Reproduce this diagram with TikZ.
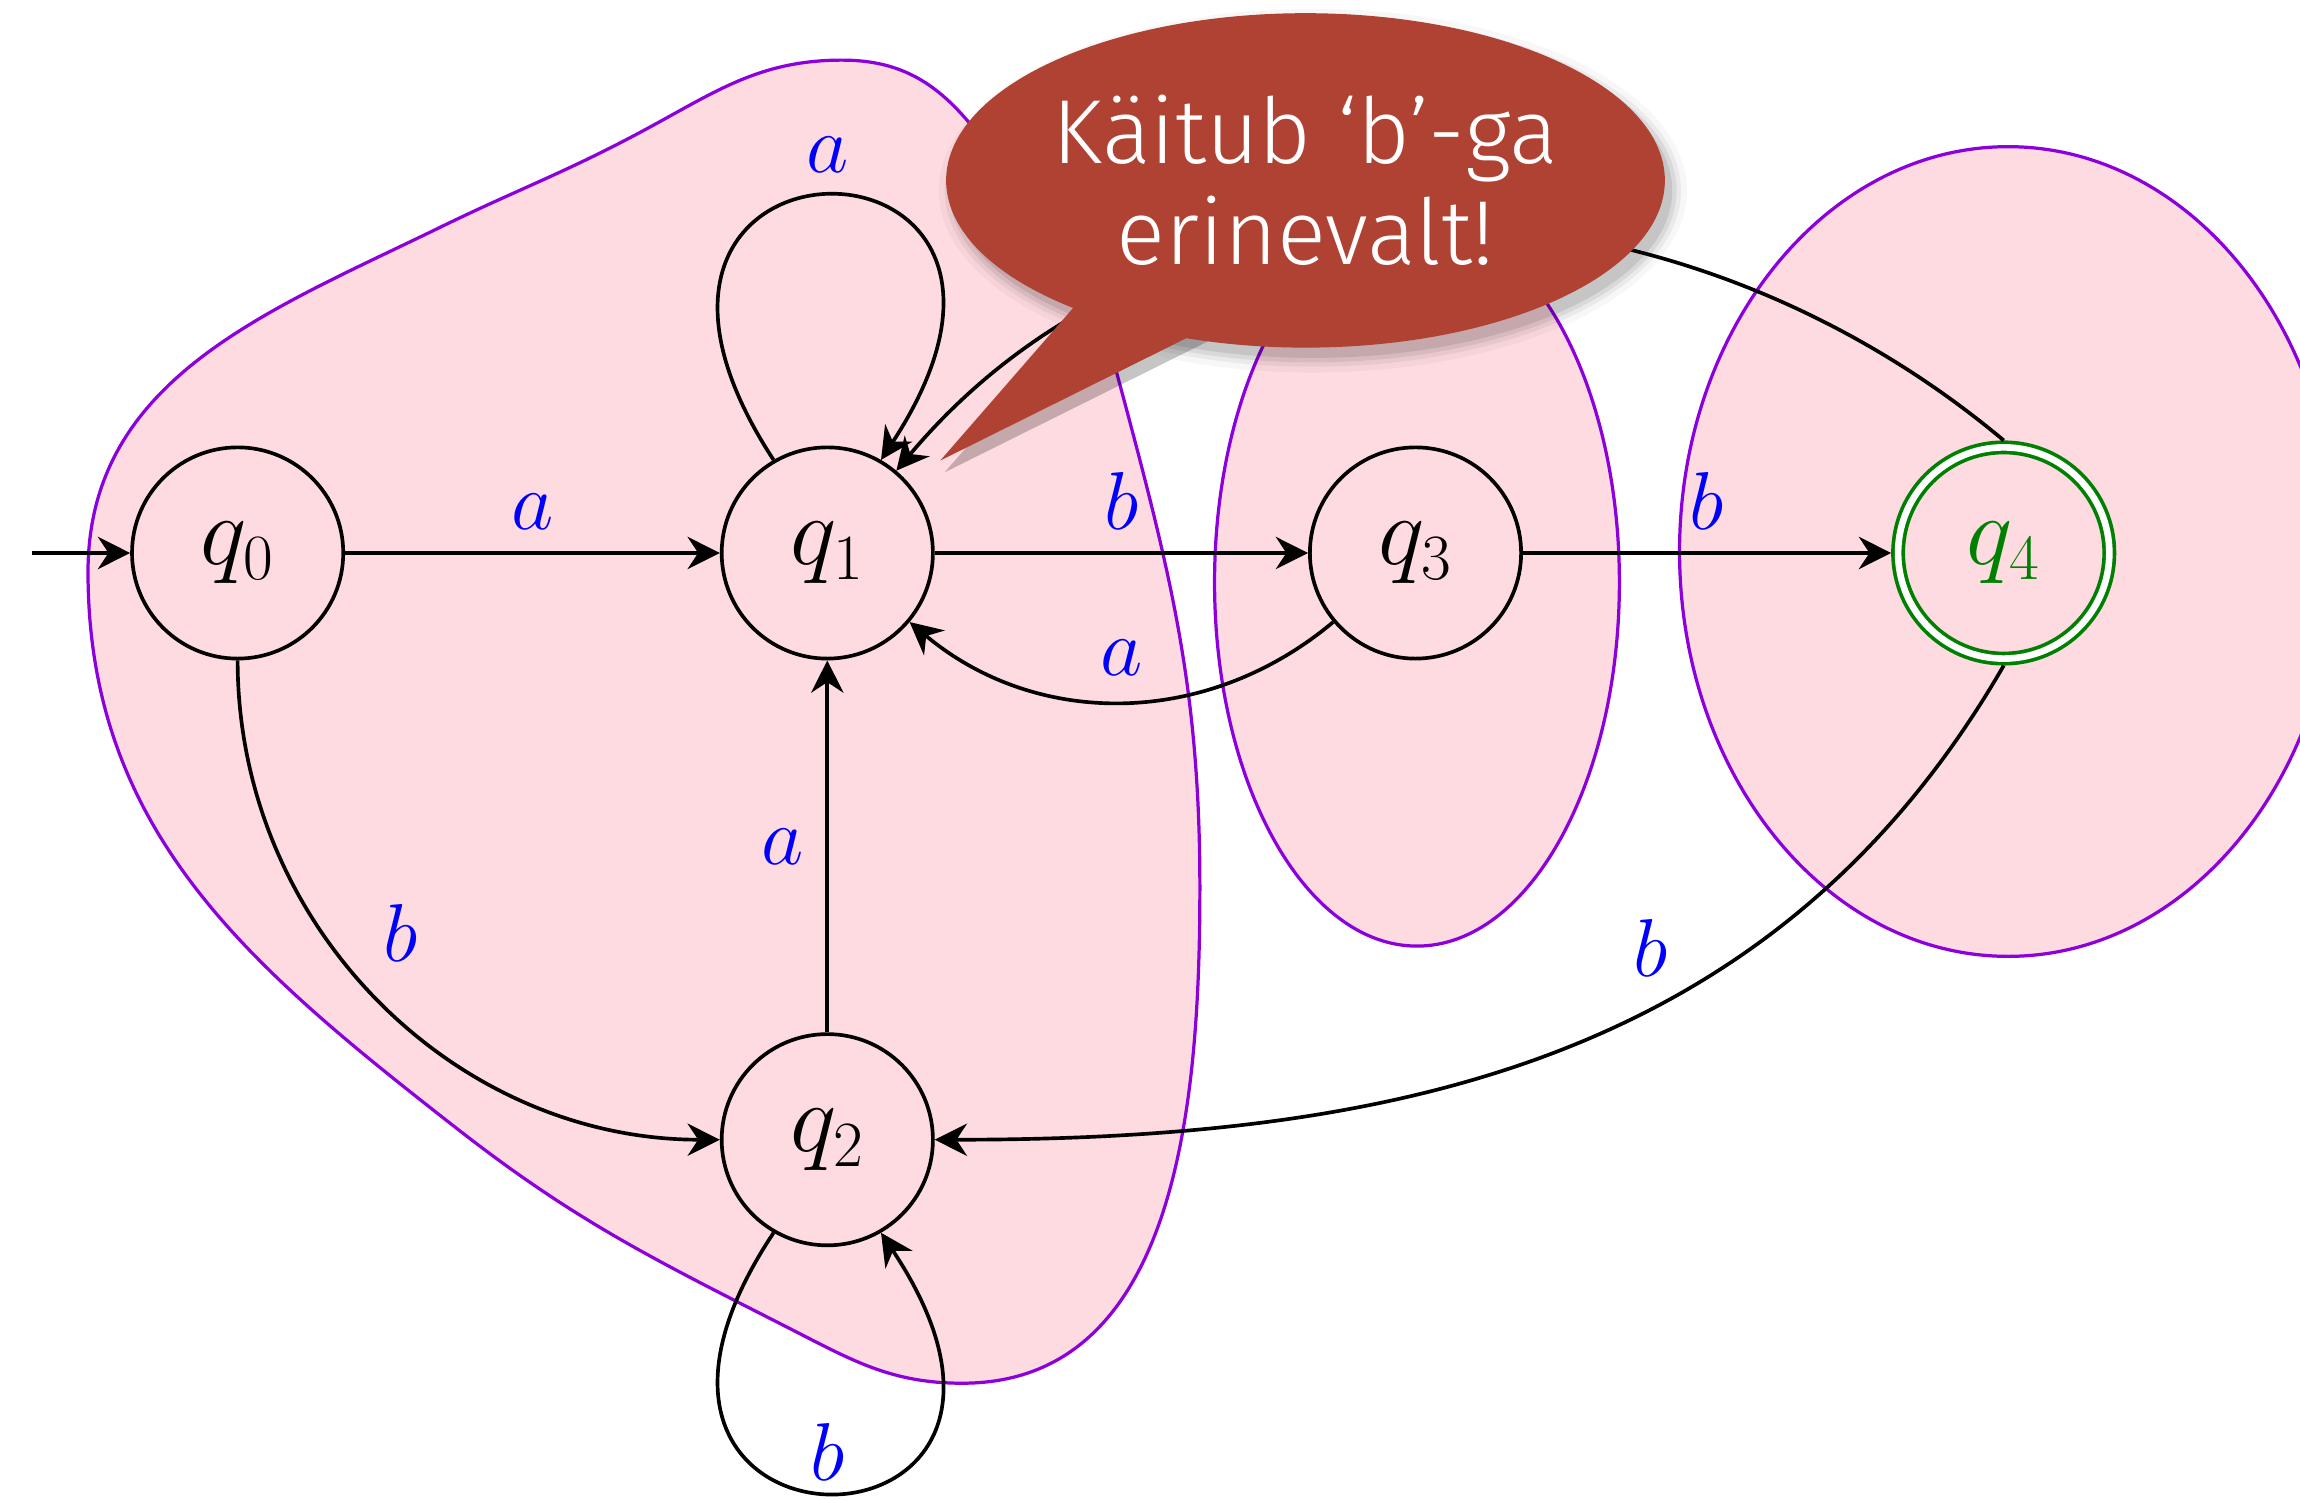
\RequirePackage{fix-cm}
\documentclass[tikz,border=0pt]{standalone}
\usepackage{fontspec}
\usetikzlibrary{arrows.meta,shapes.geometric}
\newfontfamily\calloutfont{Fira Sans Light}
\DeclareMathSizes{33.5}{33.5}{22}{15}
\DeclareMathSizes{28}{28}{19.6}{14}
\definecolor{setfill}{RGB}{254,218,225}
\definecolor{setline}{RGB}{140,0,220}
\definecolor{bubble}{RGB}{176,66,51}
\definecolor{acceptgreen}{RGB}{0,128,0}
\begin{document}
\begin{tikzpicture}[x=0.5pt,y=0.5pt,
  state/.style={circle,draw,line width=1.25pt,minimum size=72pt,inner sep=0pt,
    font=\fontsize{33.5}{40}\selectfont},
  accepting/.style={state,draw=acceptgreen,double=white,double distance=2.25pt,
    outer sep=2.375pt,text=acceptgreen},
  trans/.style={line width=1.25pt,-{Stealth[length=11pt,width=11pt,inset=3.6pt]}},
  lbl/.style={text=blue,font=\fontsize{28}{34}\selectfont},
  region/.style={draw=setline,fill=setfill,line width=1.1pt}]
\useasboundingbox (0,0) rectangle (1568,1022);
\clip (0,0) rectangle (1568,1022);

% equivalence classes
\path[region] (574,981) to[out=180,in=28] (435,931) to[out=208,in=26] (300,867)
  to[out=206,in=90] (60,632) to[out=-90,in=142] (311,253)
  to[out=-38,in=153] (537,117) to[out=-27,in=180] (656,79)
  to[out=0,in=-90] (818,417) to[out=90,in=-75] (761,769)
  to[out=105,in=-50] (661,938) to[out=130,in=0] (574,981) -- cycle;
\path[region] (966,625) ellipse [x radius=138,y radius=248];
\path[region] (1369,646) ellipse [x radius=224,y radius=276];

% states
\node[state] (q0) at (162,645) {$q_0$};
\node[state] (q1) at (564,645) {$q_1$};
\node[state] (q2) at (564,245) {$q_2$};
\node[state] (q3) at (965,645) {$q_3$};
\node[accepting] (q4) at (1366,645) {$q_4$};
\coordinate (init) at (22,645);

% transitions
\draw[trans] (init) -- (q0);
\draw[trans] (q0) -- node[lbl,above=4pt] {$a$} (q1);
\draw[trans] (q1) -- node[lbl,above=4pt] {$b$} (q3);
\draw[trans] (q3) to[out=-140,in=-40] node[lbl,above=5pt] {$a$} (q1);
\draw[trans] (q2) -- node[lbl,left=4pt] {$a$} (q1);
\draw[trans] (q0) to[out=-90,in=180] node[lbl,above right,pos=0.45,xshift=6pt] {$b$} (q2);
\draw[trans] (q3) -- node[lbl,above=4pt] {$b$} (q4);
\draw[trans] (q4.south) to[out=-120,in=0] node[lbl,above=7pt,pos=0.41] {$b$} (q2);
\draw[trans] (q4.north) to[out=140,in=50] (q1);
\draw[trans] (q1.120) .. controls +(-157,240) and +(157,240) .. node[lbl,above=4pt] {$a$} (q1.60);
\draw[trans] (q2.-120) .. controls +(-157,-236) and +(157,-236) .. node[lbl,above] {$b$} (q2.-60);

% speech bubble with a soft shadow
\foreach \g/\o in {10/0.03,6/0.05,3/0.07,0/0.09}{
  \fill[black,opacity=\o] (895,892) ellipse [x radius=245+\g,y radius=114+\g];
  \fill[black,opacity=\o] (753,825) -- (644,700) -- (835,795) -- cycle;
}
\fill[bubble] (749,832) -- (641,708) -- (830,802) -- cycle;
\node[ellipse,fill=bubble,minimum width=245pt,minimum height=114pt,inner sep=0pt,
  text=white,align=center,font=\calloutfont\fontsize{31}{34.5}\selectfont]
  (note) at (890,899) {Käitub ‘b’-ga\\erinevalt!};
\end{tikzpicture}
\end{document}
